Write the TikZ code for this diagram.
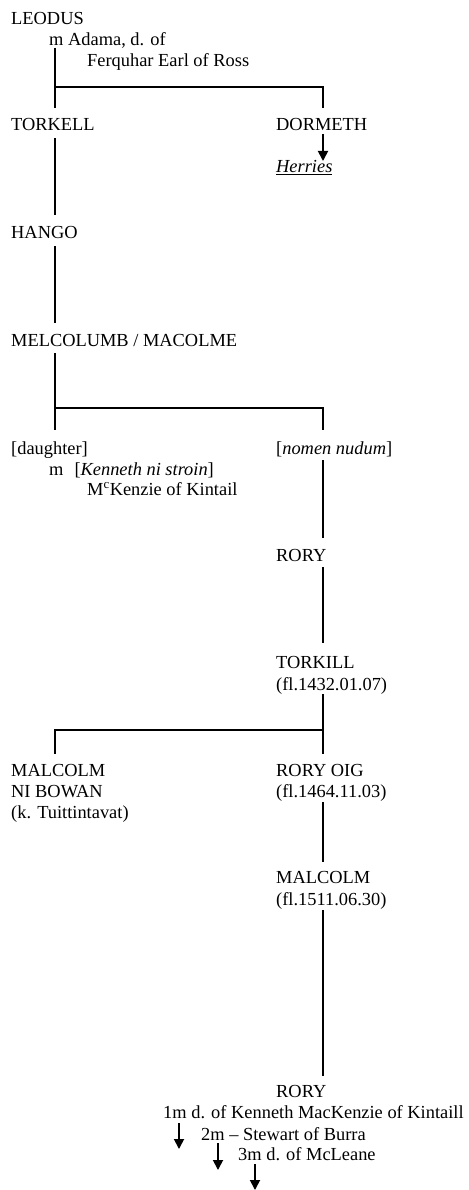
\documentclass[tikz,border=0pt]{standalone}
\usepackage{fontspec}
\setmainfont{Liberation Serif}
\usetikzlibrary{arrows.meta}
\begin{document}
\begin{tikzpicture}[x=1pt,y=-1pt,
  txt/.style={anchor=base west,inner sep=0pt,font=\fontsize{18.4}{21}\selectfont},
  link/.style={line width=1.8pt,line join=miter},
  desc/.style={line width=1.8pt,-{Triangle[width=10pt,length=10pt]}}]
\useasboundingbox (0,0) rectangle (468,1190);
\coordinate (colL) at (55,0);
\coordinate (colR) at (323,0);
% texts
\node[txt] (leodus) at (11,25) {LEODUS};
\node[txt] (madama) at (49,46) {m Adama, d. of};
\node[txt] (ferquhar) at (87,67) {Ferquhar Earl of Ross};
\node[txt] (torkell) at (11,131) {TORKELL};
\node[txt] (dormeth) at (276,131) {DORMETH};
\node[txt] (herries) at (276,173) {\underline{\textit{Herries}}};
\node[txt] (hango) at (11,239) {HANGO};
\node[txt] (melcolumb) at (11,346) {MELCOLUMB / MACOLME};
\node[txt] (daughter) at (11,454) {[daughter]};
\node[txt] (mkenneth) at (49,475) {m\hspace{11pt}[\textit{Kenneth ni stroin}]};
\node[txt] (mckenzie) at (87,495) {M\textsuperscript{c}Kenzie of Kintail};
\node[txt] (nomen) at (276,454) {[\textit{nomen nudum}]};
\node[txt] (roryA) at (276,561) {RORY};
\node[txt] (torkill) at (276,668) {TORKILL};
\node[txt] (torkilld) at (276,690) {(fl.1432.01.07)};
\node[txt] (malcolmA) at (11,776) {MALCOLM};
\node[txt] (nibowan) at (11,797) {NI BOWAN};
\node[txt] (tuitt) at (11,818) {(k. Tuittintavat)};
\node[txt] (roryoig) at (276,776) {RORY OIG};
\node[txt] (roryoigd) at (276,797) {(fl.1464.11.03)};
\node[txt] (malcolmB) at (276,883) {MALCOLM};
\node[txt] (malcolmBd) at (276,905) {(fl.1511.06.30)};
\node[txt] (roryB) at (276,1097) {RORY};
\node[txt] (mA) at (163,1118) {1m d. of Kenneth MacKenzie of Kintaill};
\node[txt] (mB) at (201,1140) {2m – Stewart of Burra};
\node[txt] (mC) at (238,1160) {3m d. of McLeane};
% bars
\coordinate (bar1) at (55,87);
\coordinate (bar2) at (55,408);
\coordinate (bar3) at (323,730);
% connectors
\draw[link] ([yshift=-2pt]madama.base -| colL) -- ([yshift=23pt]torkell.base -| colL);
\draw[link] (bar1) -| ([yshift=23pt]dormeth.base -| colR);
\draw[desc] ([yshift=-3pt]dormeth.base -| colR) -- ([yshift=12pt]herries.base -| colR);
\draw[link] ([yshift=-7pt]torkell.base -| colL) -- ([yshift=24pt]hango.base -| colL);
\draw[link] ([yshift=-7pt]hango.base -| colL) -- ([yshift=23pt]melcolumb.base -| colL);
\draw[link] ([yshift=-7pt]melcolumb.base -| colL) -- ([yshift=24pt]daughter.base -| colL);
\draw[link] (bar2) -| ([yshift=24pt]nomen.base -| colR);
\draw[link] ([yshift=-6pt]nomen.base -| colR) -- ([yshift=23pt]roryA.base -| colR);
\draw[link] ([yshift=-6pt]roryA.base -| colR) -- ([yshift=25pt]torkill.base -| colR);
\draw[link] ([yshift=-4pt]torkilld.base -| colR) -- ([yshift=22pt]roryoig.base -| colR);
\draw[link] (bar3) -| ([yshift=22pt]malcolmA.base -| colL);
\draw[link] ([yshift=-5pt]roryoigd.base -| colR) -- ([yshift=21pt]malcolmB.base -| colR);
\draw[link] ([yshift=-5pt]malcolmBd.base -| colR) -- ([yshift=21pt]roryB.base -| colR);
\coordinate (aA) at (179,0);
\coordinate (aB) at (218,0);
\coordinate (aC) at (255,0);
\draw[desc] ([yshift=-5pt]mA.base -| aA) -- ([yshift=-31pt]mA.base -| aA);
\draw[desc] ([yshift=-3pt]mB.base -| aB) -- ([yshift=-30pt]mB.base -| aB);
\draw[desc] ([yshift=-4pt]mC.base -| aC) -- ([yshift=-30pt]mC.base -| aC);
\end{tikzpicture}
\end{document}
